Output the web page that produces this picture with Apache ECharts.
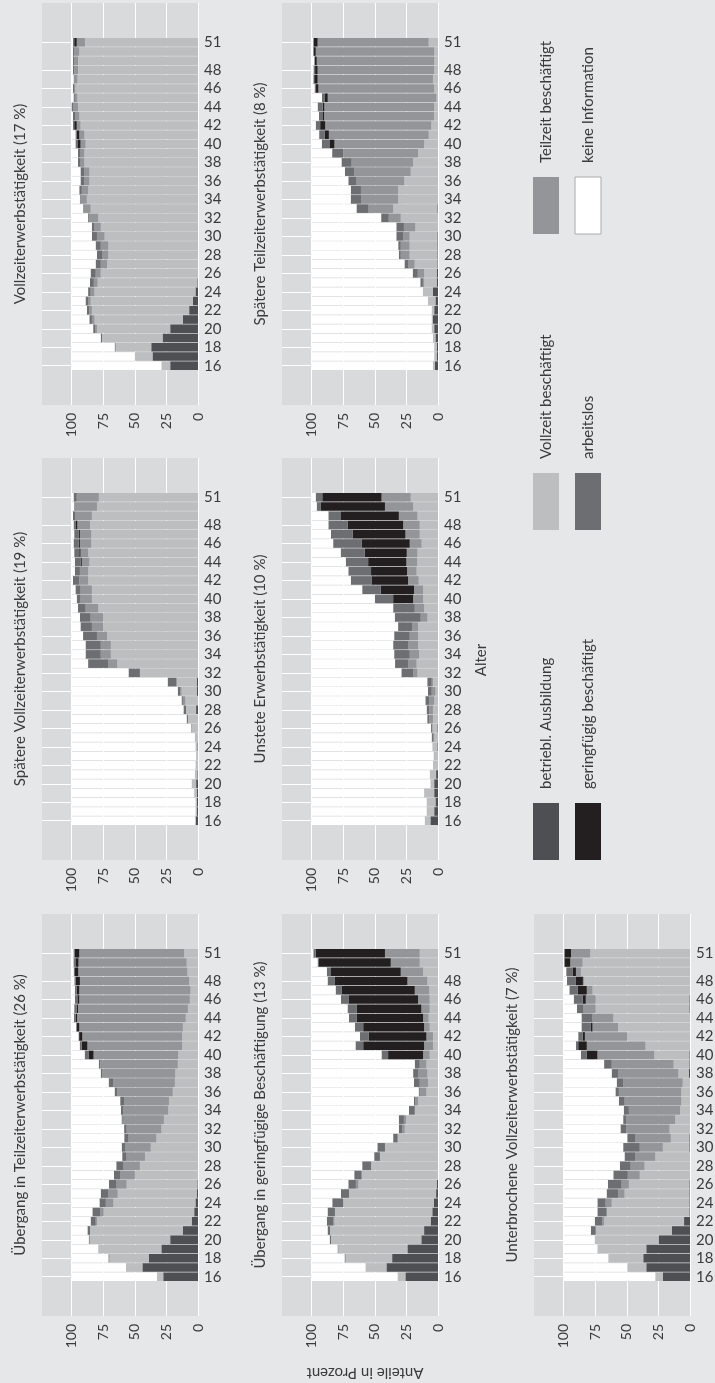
<!DOCTYPE html>
<html><head><meta charset="utf-8">
<script src="https://cdn.jsdelivr.net/npm/echarts@6/dist/echarts.min.js"></script>
<style>html,body{margin:0;padding:0;background:#e6e7e8}#c{width:715px;height:1383px}</style>
</head><body><div id="c"></div>
<script>
// ---------- data ----------
const ages = [16,17,18,19,20,21,22,23,24,25,26,27,28,29,30,31,32,33,34,35,36,37,38,39,40,41,42,43,44,45,46,47,48,49,50,51];
const ageTicks = [16,18,20,22,24,26,28,30,32,34,36,38,40,42,44,46,48,51];
const valueTicks = [0,25,50,75,100];
const stateNames = ['betriebl. Ausbildung','Vollzeit beschäftigt','Teilzeit beschäftigt','geringfügig beschäftigt','arbeitslos','keine Information'];
const stateColors = ['#4e4f52','#bcbec0','#939598','#231f20','#6d6e71','#ffffff'];

// Vollzeiterwerbstätigkeit (17 %)
const vz_ausb = [22,36,37,28,22,12,7,4,2,0.5,0,0,0,0,0,0,0,0,0,0,0,0,0,0,0,0,0,0,0,0,0,0,0,0,0,0];
const vz_voll = [7,14,28,48,58,70,77,81,80,79,77,72,71,71,74,77,79,85,88,87,86,86,90,90,89,90,93,94,95,95.5,97,95.5,95,95,94,89.5];
const vz_teil = [0,0,1,0,1.5,2,2,2,3,3,4,5,5,6,6,5,7,6,5,5,4,4,3,3,4,4,3,3,4,2,1,2.5,3,3,4,6.5];
const vz_ger  = [0,0,0,0,0,0,0,0,0,0,0,0,0,0,0,0,0,0,0,0,0,0,0,0,2,2,2,0,0,0,0,0,0,0,0,2];
const vz_alo  = [0,0,0,1,1.5,2,2,2,2,3,4,4,4,4,4,2,1,0,0.5,2,3,3,2,2,2,1,1,2,1,1,1,0.5,1,1,1,1];

// Spätere Vollzeiterwerbstätigkeit (19 %)
const svz_ausb = [2,1,1,1,1.5,0.5,0,0,0.5,0,0,0,1.5,0,1,1,0,0,0,0,0,0,0,0,0,0,0,0,0,0,0,0,0,0,0,0];
const svz_voll = [0,1,1,2,3.5,2,2,1.5,1.5,2.5,5,8,8,10,12,16,46,64,69,69,72,75,75,79,84,84,87,87,86,87,84.5,84.5,85.5,84,80,78.5];
const svz_teil = [0,0,0,0,0,0,0,0,0,0,0.5,0,0,2,1,0,0,7,8,8,8,9,10,10,9,9,7,6.5,6,6,9,9,10,13,17,17.5];
const svz_ger  = [0,0,0,0,0,0,0,0,0,0,0,0,0,0,0,0,0,0,0,0,0,0,0,0,0,0,0,0,1,1,1,1,1.5,0,0,0];
const svz_alo  = [0,0,0,0,0,0,0,0,0,0,0,1,2,1,2,7,9,16,12,12,11,9,8.5,6,3,4,5,4,4.5,4,4,3.5,1.5,2,1,2.5];

// Übergang in Teilzeiterwerbstätigkeit (26 %)
const utz_ausb = [27.5,44,39,29,22,12,5,3,2,1,0.5,0,0,0,0,0,0,0,0,0,0,0,0,0,0,0,0,0,0,0,0,0,0,0,0,0];
const utz_voll = [5,13,31,50,63.5,73.5,75,71.6,65,62.6,56,50,46,42,37.4,33,29,27,23.6,23,20,18.3,18,16,15.7,12.6,12.6,12,9.7,8,6.5,6,7,8.4,9,11];
const utz_teil = [0,0,1,0,1,0,1,3,6,7.4,8,11.5,13,15,20,22,27.5,32.7,35.4,35.6,44,49,58,61.5,67,75,79,82,86,87,87.5,88,86.5,86.4,85.6,83];
const utz_ger  = [0,0,0,0,0,0,0,0,0,0,0,0,0,0,0,0,0,0,0,0,0,0,0,0,4,4.5,2.5,2,1,1,1.5,2,3.4,2.6,2,3.6];
const utz_alo  = [0,0,0,0,0,2,4,6,5,6,6,5,5.7,3,3,3.4,2,0.8,2,3,2,3.4,1,1,3,1.5,0.5,0.5,1.5,2,2,1.5,1,1,2,1];

// Spätere Teilzeiterwerbstätigkeit (8 %)
const stz_ausb = [2.5,1,1,2,3,4,3,2,4,1,1,0.5,0.5,0.5,0.5,0,0,0.5,0,0,0,0,0,0,0,0,0,0,0,0,0,0,0,0,0,0];
const stz_voll = [1.5,2,2,2,2,1,2,6,8,10,10,18,22,22,22,18,29.5,35,31.6,31.6,26.8,21.6,19.7,15.8,11,7.4,5.3,3.2,3,1.3,3,4,3,3,3,7.4];
const stz_teil = [0,0,0,0,0,0,0,0,0,1,5,5,7,7,5,9,9.5,19.5,29,29.4,37.7,44.7,48.7,59,71,79,84,87,87,86,91.7,91.3,92.3,93,93.8,87.9];
const stz_ger  = [0,0,0,0,0,0,0,0,0,0,0,0,0,0,0,0,0,0,0,0,0,0,0,0,3.5,3.2,4,1.3,1.3,2.6,2,2.7,2,1.4,1.9,3.4];
const stz_alo  = [0,0,0,0,0,0,0,0,0,2,4,3,1.5,2,5.5,6,6,9.5,8.5,8,6.5,7.4,8,9,6.5,4.5,3.5,2.7,4,2,1,0.7,1.3,0.6,0,0];

// Unstete Erwerbstätigkeit (10 %)
const un_ausb = [6,3,2,3,3,1.5,0,0,0.5,0,0.5,0,0,0,0,0,0,0,0,0,0,0,0,0,0,0,0,0,0,0,0,0,0,0,0,0];
const un_voll = [4.5,6,7,8,3,5,4,3.5,4,3,4,4,4,3,2,4,16.3,17,15,15.8,15.8,15.8,8.4,11,11.8,11.8,15.3,17,16.5,16.3,13,14.5,14.5,16.3,19.7,21.6];
const un_teil = [0,0,0,0,0,0,0,0,0,1,0,3,3,4,3,1,3.4,6.7,7.4,7.9,6.6,4.7,5.3,7.4,7.9,7.2,8.4,7.5,8.5,8.4,9.4,11.3,13.1,14.7,22.3,23.1];
const un_ger  = [0,0,0,0,0,0,0,0,0,0,0,0,0,0,0,0,0,0,0,0,0,0,0,0,15.8,26.3,28.9,28.5,30.3,33.3,38.1,41.8,44,45.8,51,46.9];
const un_alo  = [0,0,0,0,0,0,0,0,0,1,1,1.5,2,3,3,3.5,9.3,10.3,12.3,11.8,12.3,11.1,20.5,17.1,14.5,14.7,16.4,18,17.7,19,22.5,17.1,15.2,10,3,5.2];

// Übergang in geringfügige Beschäftigung (13 %)
const ugb_ausb = [25.8,40.8,36.3,24.2,13.2,11,5.8,4.5,3.2,1.5,1,0,0,0,0,0,0,0,0,0,0,0,0,0,0,0,0,0,0,0,0,0,0,0,0,0];
const ugb_voll = [6.2,16.6,36.7,54.8,71.5,74.5,76.2,77.1,71.8,69,62,60.5,53,46,42,31.6,26.3,25,18.4,15.8,9.2,7.9,8.4,9.2,6.6,4,4,6.6,7.4,6.6,6.6,7,8.4,11.8,14.5,14.5];
const ugb_teil = [0,0,1,0,0,0,1,0,0,0,2,0,0,0,0,0.5,2.1,2,0,2.2,5.3,6.6,7.4,5.3,5.2,7,5.2,4.4,4.4,6.6,9.2,11.4,15.8,17.7,22.9,27.5];
const ugb_ger  = [0,0,0,0,0,0,0,0,0,0,0,0,0,0,0,0,0,0,0,0,0,0,0,0,27.7,48.2,45.5,48.2,52.7,51.3,54.7,57.9,57.4,55.2,56.8,54.8];
const ugb_alo  = [0,0,0,0.5,1,1.9,5,5.8,8.7,6.3,6,5.8,7,4.5,6,3.4,2.6,4,4.6,1,0.8,4.5,3.9,3.9,5.2,6.1,7.1,6.6,6,7.1,6.3,4.7,5.8,3.3,1.1,1.9];

// Unterbrochene Vollzeiterwerbstätigkeit (7 %)
const uvz_ausb = [21.5,34.6,37,34.6,24.9,14.4,4.7,0.5,0.5,0.5,0.5,0,0,0,0.5,0.5,0,0,0,0,0,0,1,0.5,0.5,0,0,0,0,0.5,0.5,0,0,0,0,0];
const uvz_voll = [6,15.1,27.7,38.7,50.5,60.2,63.3,65.5,61.5,51.3,47.9,39.8,36,27.5,21,14.7,16.2,11.8,7.9,7,7,5.8,8.2,12.5,27.8,35.3,49.7,57,60.7,74.1,74.1,77.2,83.8,86.4,85,79];
const uvz_teil = [0,0,0,0,0,0,1.5,0,4.8,5,5.8,9.4,11,15.7,18.3,28,34.3,38.7,40.5,44.8,49.3,47.1,47.8,49,45,46.4,33.5,20.2,16.5,9.7,7.9,4.5,1,3.9,9.8,15.2];
const uvz_ger  = [0,0,0,0,0,0,0,0,0,0,0,0,0,0,0,0,0,0,0,0,0,0,0,0,8.4,6.8,1.8,1.3,0,0,2.5,7.3,5.5,2.7,4.7,5.3];
const uvz_alo  = [0,0,0,0,0,3.9,5.9,7.3,6.5,9.2,10.8,11.5,8.5,8.6,13.1,6.5,4.5,2.4,4,4.5,2.7,5.1,5,6,4.7,1.8,3.5,7.4,8.7,5.2,7,6.5,7.1,5,0,0];

const panels = [
  {title:'Vollzeiterwerbstätigkeit (17 %)', col:0, row:0, d:[vz_ausb,vz_voll,vz_teil,vz_ger,vz_alo]},
  {title:'Spätere Vollzeiterwerbstätigkeit (19 %)', col:0, row:1, d:[svz_ausb,svz_voll,svz_teil,svz_ger,svz_alo]},
  {title:'Übergang in Teilzeiterwerbstätigkeit (26 %)', col:0, row:2, d:[utz_ausb,utz_voll,utz_teil,utz_ger,utz_alo]},
  {title:'Spätere Teilzeiterwerbstätigkeit (8 %)', col:1, row:0, d:[stz_ausb,stz_voll,stz_teil,stz_ger,stz_alo]},
  {title:'Unstete Erwerbstätigkeit (10 %)', col:1, row:1, d:[un_ausb,un_voll,un_teil,un_ger,un_alo]},
  {title:'Übergang in geringfügige Beschäftigung (13 %)', col:1, row:2, d:[ugb_ausb,ugb_voll,ugb_teil,ugb_ger,ugb_alo]},
  {title:'Unterbrochene Vollzeiterwerbstätigkeit (7 %)', col:2, row:2, d:[uvz_ausb,uvz_voll,uvz_teil,uvz_ger,uvz_alo]}
];

// ---------- layout ----------
const FONT = 'Lato';
const TXT = '#3b3b3b';
const PANEL_BG = '#d9dadc';
const colLeft = [42, 282, 534];
const rowTop = [3, 458, 914];
const PW = 156, PH = 402;
const AGE_MIN = 11.75, AGE_MAX = 55.25, VAL_MAX = 123.5;
const ppy = PH / (AGE_MAX - AGE_MIN);

const grid = [], xAxis = [], yAxis = [], series = [];
panels.forEach((p, i) => {
  const left = colLeft[p.col], top = rowTop[p.row];
  const ga = grid.length;
  grid.push({left, top, width: PW, height: PH, show: true, backgroundColor: PANEL_BG, borderWidth: 0, outerBoundsMode: 'none', containLabel: false});
  const bTop = top + (AGE_MAX - (ages[ages.length-1] + 0.5)) * ppy;
  const gb = grid.length;
  grid.push({left, top: bTop, width: PW, height: ages.length * ppy, show: false, outerBoundsMode: 'none', containLabel: false});

  // outer axes
  const xa = xAxis.length;
  xAxis.push({gridIndex: ga, type: 'value', inverse: true, min: 0, max: VAL_MAX,
    axisLine: {show: false}, axisTick: {show: false, customValues: valueTicks},
    axisLabel: {customValues: valueTicks, rotate: 90, margin: 8, fontSize: 14, color: TXT, fontFamily: FONT},
    splitLine: {show: true, lineStyle: {color: '#ffffff', width: 1}}});
  yAxis.push({gridIndex: ga, type: 'value', position: 'right', min: AGE_MIN, max: AGE_MAX,
    axisLine: {show: false}, axisTick: {show: false, customValues: ageTicks},
    axisLabel: {customValues: ageTicks, margin: 6, fontSize: 15, color: TXT, fontFamily: FONT, padding: [10,0,0,0]},
    splitLine: {show: true, lineStyle: {color: '#ffffff', width: 1}}});
  yAxis.push({gridIndex: ga, type: 'value', position: 'left', min: AGE_MIN, max: AGE_MAX,
    axisLine: {show: false}, axisTick: {show: false}, axisLabel: {show: false}, splitLine: {show: false},
    name: p.title, nameLocation: 'middle', nameRotate: 90, nameGap: 14,
    nameTextStyle: {fontSize: 15, color: TXT, fontFamily: FONT}});

  // inner axes for bars
  const xb = xAxis.length;
  xAxis.push({gridIndex: gb, type: 'value', inverse: true, min: 0, max: VAL_MAX, show: false, splitLine: {show: false}});
  const yb = yAxis.length;
  yAxis.push({gridIndex: gb, type: 'category', data: ages, show: false, boundaryGap: true});

  const rest = ages.map((a, k) => Math.max(0, +(100 - p.d.reduce((s, arr) => s + arr[k], 0)).toFixed(2)));
  const all = p.d.concat([rest]);
  all.forEach((arr, s) => {
    series.push({type: 'bar', name: stateNames[s], xAxisIndex: xb, yAxisIndex: yb, stack: 'p' + i,
      data: arr, barCategoryGap: '7%', silent: true,
      itemStyle: {color: stateColors[s]}});
  });
});

// legend drawn as graphic (rotated like the page)
const graphic = [];
const legendCols = [533, 575];
const legendSlots = [803, 473, 177];
stateNames.forEach((nm, s) => {
  const c = Math.floor(s / 3), r = s % 3;
  const x = legendCols[c], y = legendSlots[r];
  graphic.push({type: 'rect', shape: {x: x, y: y, width: 26, height: 57},
    style: {fill: stateColors[s], stroke: s === 5 ? '#a9aaac' : null, lineWidth: s === 5 ? 1 : 0}});
  graphic.push({type: 'text', x: x + 13.5, y: y - 14, rotation: Math.PI / 2,
    style: {text: nm, fontSize: 15, fill: TXT, fontFamily: FONT, align: 'left', verticalAlign: 'middle'}});
});
graphic.push({type: 'text', x: 481, y: 660, rotation: Math.PI / 2,
  style: {text: 'Alter', fontSize: 15, fill: TXT, fontFamily: FONT, align: 'center', verticalAlign: 'middle'}});
graphic.push({type: 'text', x: 365, y: 1373, rotation: Math.PI,
  style: {text: 'Anteile in Prozent', fontSize: 15, fill: TXT, fontFamily: FONT, align: 'center', verticalAlign: 'middle'}});

const chart = echarts.init(document.getElementById('c'), null, {renderer: 'canvas'});
chart.setOption({
  backgroundColor: '#e6e7e8',
  animation: false,
  textStyle: {fontFamily: FONT},
  grid, xAxis, yAxis, series, graphic
});
</script>
</body></html>
